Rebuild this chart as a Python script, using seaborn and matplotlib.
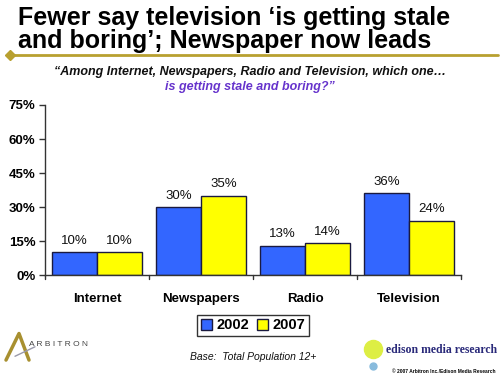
import pandas as pd
import matplotlib.pyplot as plt
import seaborn as sns
from matplotlib.lines import Line2D

categories = ['Internet', 'Newspapers', 'Radio', 'Television']
years = ['2002', '2007']
vals_2002 = [10, 30, 13, 36]
vals_2007 = [10, 35, 14, 24]
yticks = [0, 15, 30, 45, 60, 75]

df = pd.DataFrame({
    'medium': categories * 2,
    'year': [years[0]] * 4 + [years[1]] * 4,
    'pct': vals_2002 + vals_2007,
})

sns.set_style('white')
plt.rcParams['font.family'] = ['Liberation Sans', 'DejaVu Sans']
plt.rcParams['text.color'] = 'black'
plt.rcParams['xtick.color'] = 'black'
plt.rcParams['ytick.color'] = 'black'

fig = plt.figure(figsize=(5, 3.79), dpi=100)
ax = fig.add_axes([0.09, 0.274, 0.832, 0.449])

sns.barplot(data=df, x='medium', y='pct', hue='year', order=categories,
            hue_order=years, palette=['#3366FF', '#FFFF00'], width=0.87,
            edgecolor='#1a1a40', linewidth=1.0, saturation=1, ax=ax)

for cont in ax.containers:
    ax.bar_label(cont, labels=[f'{v:.0f}%' for v in cont.datavalues],
                 padding=4, fontsize=9.5, color='#111111')

ax.set_ylim(0, 75)
ax.set_yticks(yticks)
ax.set_yticklabels([f'{t}%' for t in yticks], fontsize=9.5, fontweight='bold')
ax.set_xticks(range(4))
ax.set_xticklabels(categories, fontsize=9.5, fontweight='bold')
ax.set_xlim(-0.5, 3.5)
ax.set_xlabel('')
ax.set_ylabel('')
for s in ['top', 'right']:
    ax.spines[s].set_visible(False)
for s in ['left', 'bottom']:
    ax.spines[s].set_color('#333333')
    ax.spines[s].set_linewidth(1.0)
ax.tick_params(axis='y', left=True, length=4, width=1, color='#333333', pad=3)
ax.tick_params(axis='x', bottom=False, pad=9)
for xb in [-0.5, 0.5, 1.5, 2.5, 3.5]:
    ax.plot([xb, xb], [0, -1.5], color='#333333', lw=1, clip_on=False)

leg = ax.legend(loc='upper center', bbox_to_anchor=(0.5, -0.19), ncol=2,
                frameon=True, fancybox=False, edgecolor='black',
                handlelength=0.8, handleheight=0.8, handletextpad=0.3,
                columnspacing=0.5, borderpad=0.25,
                prop={'weight': 'bold', 'size': 10.5})
leg.get_frame().set_linewidth(1.0)

# title and header decoration
fig.text(0.036, 0.934, 'Fewer say television \u2018is getting stale', fontsize=18,
         fontweight='heavy', ha='left', va='baseline')
fig.text(0.036, 0.873, 'and boring\u2019; Newspaper now leads', fontsize=18,
         fontweight='heavy', ha='left', va='baseline')
fig.add_artist(Line2D([0.02, 0.995], [0.855, 0.855], color='#B8A030', lw=2))
fig.add_artist(Line2D([0.02], [0.855], marker='D', color='#B8A030', markersize=5))
fig.text(0.5, 0.81, '\u201cAmong Internet, Newspapers, Radio and Television, which one\u2026',
         fontsize=9, fontweight='bold', style='italic', ha='center', va='center',
         color='#111111')
fig.text(0.5, 0.77, 'is getting stale and boring?\u201d', fontsize=9,
         fontweight='bold', style='italic', ha='center', va='center', color='#6633CC')

# footer
fig.add_artist(Line2D([0.012, 0.038, 0.058], [0.05, 0.12, 0.05], color='#A89030', lw=2.5))
fig.add_artist(Line2D([0.03, 0.07], [0.06, 0.085], color='#9999aa', lw=1))
fig.text(0.058, 0.09, 'A R B I T R O N', fontsize=6, color='#444444', ha='left', va='center')
fig.text(0.506, 0.058, 'Base:  Total Population 12+', fontsize=7.5, style='italic',
         ha='center', va='center', color='#111111')
fig.add_artist(Line2D([0.745], [0.078], marker='o', color='#DDEE44', markersize=13))
fig.add_artist(Line2D([0.745], [0.035], marker='o', color='#88BBDD', markersize=5))
fig.text(0.772, 0.076, 'edison media research', fontsize=8.5, family='Liberation Serif',
         fontweight='bold', color='#2a2a7a', ha='left', va='center')
fig.text(0.99, 0.02, '\u00a9 2007 Arbitron Inc./Edison Media Research', fontsize=3.5,
         fontweight='bold', ha='right', va='center')

fig.savefig('out.png', dpi=100)
